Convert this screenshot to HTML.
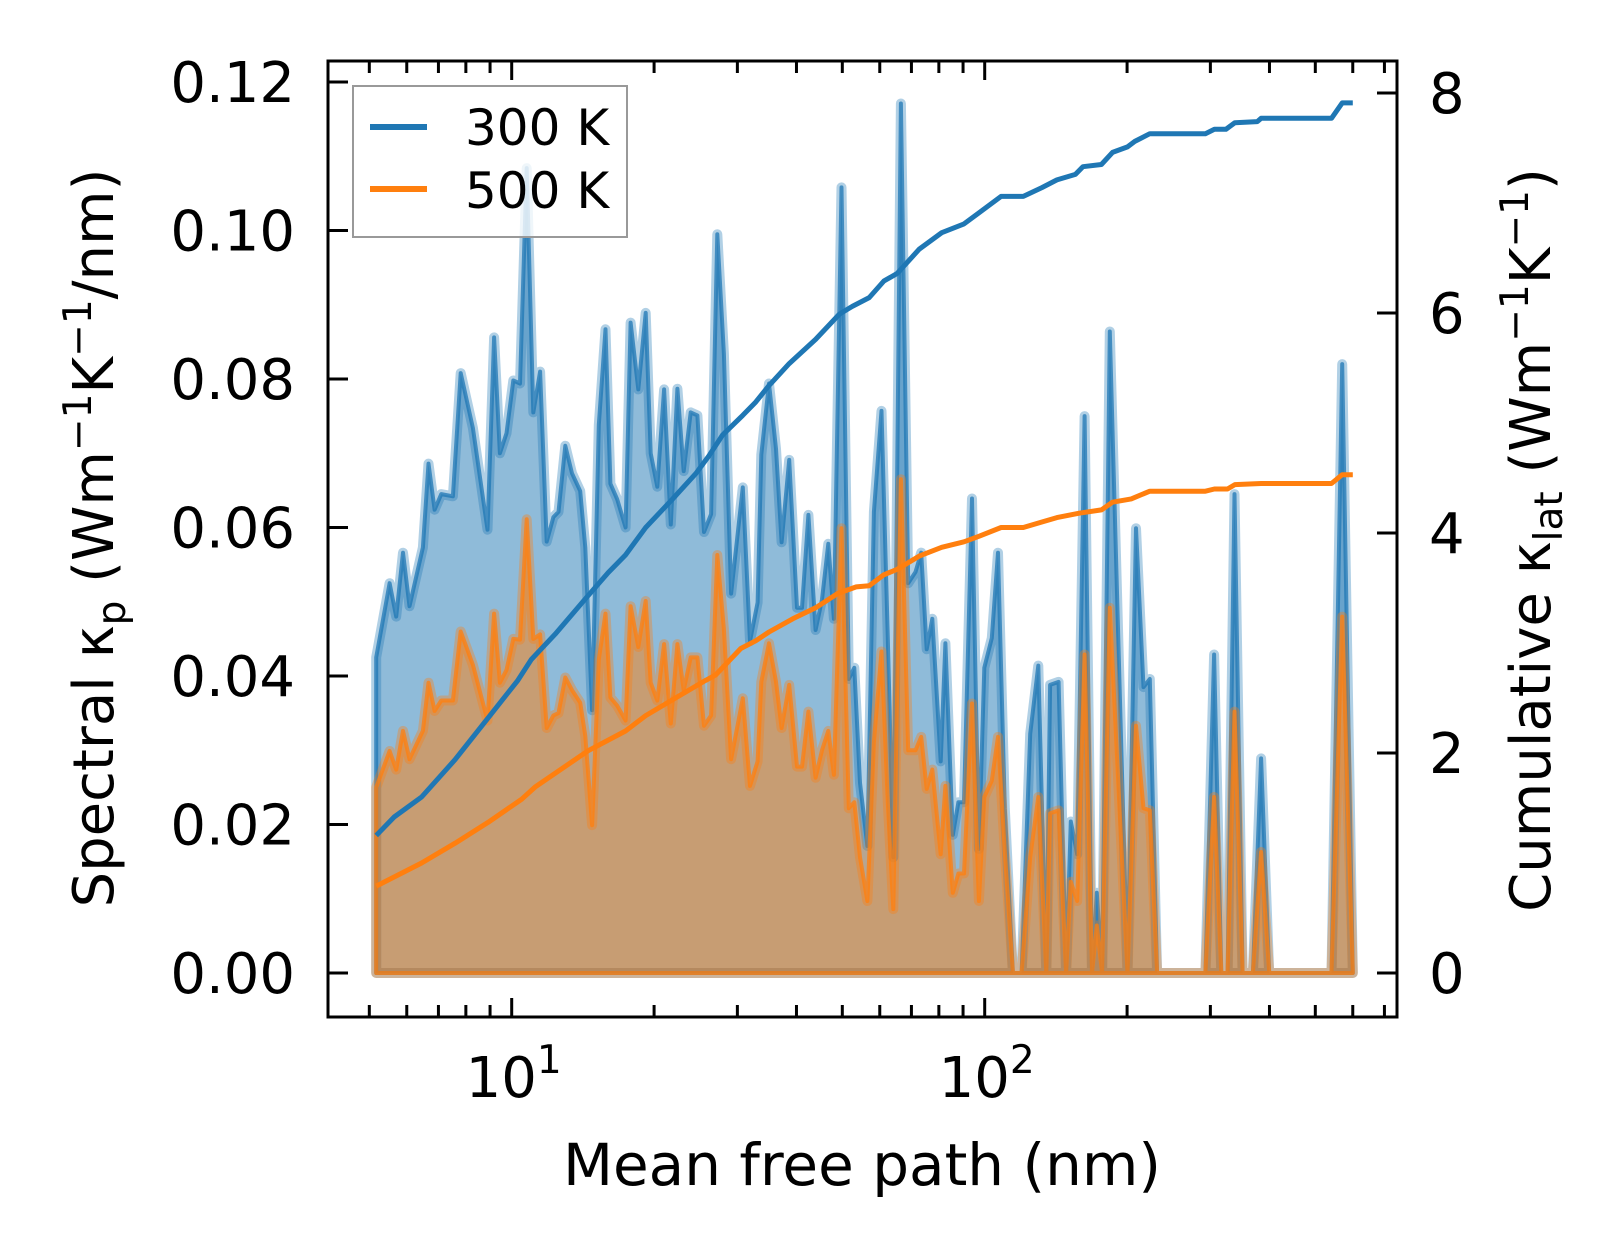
<!DOCTYPE html>
<html><head><meta charset="utf-8"><style>
html,body{margin:0;padding:0;background:#fff;}
svg{display:block;font-family:"DejaVu Sans","Liberation Sans",sans-serif;}
</style></head><body>
<svg id="chart" width="1623" height="1255" viewBox="0 0 1623 1255" xmlns="http://www.w3.org/2000/svg">
<rect x="0" y="0" width="1623" height="1255" fill="#fff"/>
<g id="fills"></g><g id="lines"></g><g id="cums"></g>
<g id="axes"></g>
<g id="legend">
 <rect x="353" y="86" width="274" height="151" fill="#fff" fill-opacity="0.8" stroke="#999" stroke-width="2"/>
 <line x1="370" y1="127" x2="427" y2="127" stroke="#1f77b4" stroke-width="6"/>
 <text x="465" y="145" font-size="50">300 K</text>
 <line x1="370" y1="189" x2="427" y2="189" stroke="#ff7f0e" stroke-width="6"/>
 <text x="465" y="208" font-size="50">500 K</text>
</g>
<text x="862" y="1185" font-size="58" text-anchor="middle">Mean free path (nm)</text>
<text transform="translate(113,538) rotate(-90)" font-size="56" text-anchor="middle">Spectral κ<tspan font-size="39" dy="12">p</tspan><tspan dy="-12"> (Wm</tspan><tspan font-size="39" dy="-22">−1</tspan><tspan dy="22">K</tspan><tspan font-size="39" dy="-22">−1</tspan><tspan dy="22">/nm)</tspan></text>
<text transform="translate(1550,540) rotate(-90)" font-size="56" text-anchor="middle">Cumulative κ<tspan font-size="39" dy="12">lat</tspan><tspan dy="-12"> (Wm</tspan><tspan font-size="39" dy="-22">−1</tspan><tspan dy="22">K</tspan><tspan font-size="39" dy="-22">−1</tspan><tspan dy="22">)</tspan></text>
</svg>
<script>
const mfp = [5.17,5.52,5.70,5.89,6.08,6.49,6.67,6.87,7.10,7.51,7.80,8.28,8.89,9.18,9.44,9.75,10.08,10.41,10.76,11.11,11.48,11.86,12.25,12.56,12.98,13.41,13.96,14.31,14.79,15.28,15.79,16.17,16.71,17.41,17.84,18.52,19.20,19.67,20.32,21.0,21.7,22.4,23.1,23.9,24.7,25.5,26.4,27.2,28.1,29.1,30.8,31.9,33.1,33.7,35.0,36.2,37.2,38.6,40.1,41.1,42.4,43.9,45.3,46.7,48.0,49.8,51.6,53.0,54.5,56.5,58.3,60.5,62.4,64.1,66.5,68.9,71.4,73.4,75.4,77.5,80.7,82.6,85.6,88.0,90.4,94.0,97.2,99.8,103.5,106.7,110.3,114.7,119.7,124.8,129.8,135.0,137.5,143.3,148.6,152.1,156.9,162.6,168.6,172.6,177.1,183.9,200.4,208.9,216.6,223.4,231.5,292.8,305.5,316.4,326.3,337.3,351,369,384,399.5,541,570,600];
const k300 = [0.0425,0.0525,0.0480,0.0566,0.0494,0.0573,0.0686,0.0624,0.0645,0.0642,0.0808,0.0734,0.0597,0.0856,0.0700,0.0727,0.0798,0.0794,0.1084,0.0755,0.0810,0.0581,0.0614,0.0621,0.0710,0.0673,0.0649,0.0573,0.0354,0.0738,0.0867,0.0659,0.0638,0.0600,0.0876,0.0786,0.0889,0.0700,0.0655,0.0786,0.0604,0.0787,0.0676,0.0755,0.0751,0.0594,0.0618,0.0995,0.0834,0.0511,0.0654,0.0447,0.0499,0.0698,0.0794,0.0706,0.0580,0.0691,0.0492,0.0492,0.0617,0.0462,0.0503,0.0578,0.0477,0.1058,0.0396,0.0411,0.0256,0.0171,0.0621,0.0757,0.0451,0.0156,0.1171,0.0525,0.0540,0.0566,0.0436,0.0477,0.0285,0.0444,0.0186,0.0230,0.0230,0.0639,0.0167,0.0411,0.0451,0.0566,0.0222,0,0,0.0322,0.0414,0,0.0388,0.0392,0,0.0204,0.0160,0.0750,0,0.0108,0,0.0864,0,0.0599,0.0385,0.0396,0,0,0.0429,0,0,0.0645,0,0,0.0289,0,0,0.0820,0];
const k500 = [0.0250,0.0299,0.0274,0.0326,0.0288,0.0326,0.0391,0.0353,0.0367,0.0367,0.0460,0.0415,0.0340,0.0484,0.0391,0.0408,0.0450,0.0449,0.0611,0.0450,0.0456,0.0330,0.0347,0.0350,0.0398,0.0381,0.0364,0.0319,0.0199,0.0422,0.0484,0.0371,0.0360,0.0340,0.0494,0.0439,0.0501,0.0391,0.0367,0.0443,0.0336,0.0443,0.0381,0.0425,0.0425,0.0333,0.0347,0.0563,0.0463,0.0288,0.0370,0.0252,0.0285,0.0392,0.0444,0.0392,0.0330,0.0388,0.0278,0.0278,0.0352,0.0263,0.0300,0.0326,0.0267,0.0599,0.0222,0.0230,0.0156,0.0097,0.0311,0.0433,0.0230,0.0086,0.0665,0.0300,0.0300,0.0318,0.0248,0.0274,0.0160,0.0252,0.0108,0.0134,0.0134,0.0363,0.0097,0.0237,0.0259,0.0318,0.0163,0,0,0.0156,0.0237,0,0.0215,0.0219,0,0.0123,0.0097,0.0429,0,0.0064,0,0.0492,0,0.0333,0.0222,0.0219,0,0,0.0237,0,0,0.0352,0,0,0.0163,0,0,0.0480,0];
const cumMfp300 = [5.17,5.65,6.45,7.59,8.92,10.3,11.0,12.35,14.5,16.0,17.4,19.2,21.9,24.5,26.1,27.9,30.8,32.8,35.0,38.6,43.9,49.3,52.5,57.0,61.2,65.3,72.7,81.1,90.4,97.2,108.3,120.7,132.1,142.1,155.5,161.3,176.5,186.3,200.4,207.7,223.4,292.8,306,323.5,338,377,384,541,570,600];
const cum300 = [1.25,1.42,1.60,1.94,2.32,2.66,2.85,3.08,3.43,3.64,3.80,4.05,4.31,4.54,4.70,4.89,5.07,5.19,5.34,5.54,5.76,5.99,6.06,6.14,6.29,6.36,6.58,6.73,6.81,6.91,7.06,7.06,7.14,7.21,7.26,7.33,7.35,7.46,7.51,7.56,7.63,7.63,7.67,7.67,7.73,7.74,7.77,7.77,7.91,7.91];
const cumMfp500 = [5.17,6.45,7.59,8.92,10.5,11.2,14.5,17.4,19.2,22.2,25.7,27.0,30.5,32.8,35.0,39.3,43.9,48.9,53.5,57.0,61.2,65.3,72.7,81.1,90.4,97.2,108.3,120.7,132.1,142.1,158.4,176.5,186.3,204,223.4,292.8,306,326,338,384,541,570,600];
const cum500 = [0.79,1.00,1.18,1.37,1.58,1.69,2.02,2.20,2.34,2.50,2.66,2.71,2.95,3.02,3.10,3.22,3.32,3.45,3.51,3.52,3.62,3.67,3.79,3.87,3.92,3.97,4.05,4.05,4.10,4.14,4.18,4.21,4.28,4.31,4.38,4.38,4.40,4.40,4.44,4.45,4.45,4.53,4.53];
const leftTicks = [0,0.02,0.04,0.06,0.08,0.10,0.12];
const leftTickLabels = ["0.00","0.02","0.04","0.06","0.08","0.10","0.12"];
const rightTicks = [0,2,4,6,8];
const xMajor = [10,100];
const xMajorExp = ["1","2"];
const xMinor = [5,6,7,8,9,20,30,40,50,60,70,80,90,200,300,400,500,600,700];

const NS="http://www.w3.org/2000/svg";
const L=328,R=1397,T=61,B=1017;
function X(v){return 511.7+(Math.log10(v)-1)*473;}
function YL(v){return 973-v/0.12*(973-82);}
function YR(v){return 973-v/8*(973-93);}
function mk(tag,attrs,parent){const e=document.createElementNS(NS,tag);for(const k in attrs)e.setAttribute(k,attrs[k]);parent.appendChild(e);return e;}
const fills=document.getElementById('fills'),lines=document.getElementById('lines'),cums=document.getElementById('cums'),axes=document.getElementById('axes');

function spectral(vals,color,name){
  let d='M'+X(mfp[0]).toFixed(1)+','+YL(0).toFixed(1);
  for(let i=0;i<mfp.length;i++)d+=' L'+X(mfp[i]).toFixed(1)+','+YL(vals[i]).toFixed(1);
  d+=' L'+X(mfp[mfp.length-1]).toFixed(1)+','+YL(0).toFixed(1)+' Z';
  const f=mk('path',{d:d,fill:color,'fill-opacity':0.5,stroke:'none'},fills);
  
  
  const h=mk('path',{d:d,fill:'none',stroke:color,'stroke-opacity':0.35,'stroke-width':10,'stroke-linejoin':'round'},lines);
  
  
  const c=mk('path',{d:d,fill:'none',stroke:color,'stroke-opacity':0.75,'stroke-width':4,'stroke-linejoin':'round'},lines);
  
  
}
spectral(k300,'#1f77b4','spectral-300k');
spectral(k500,'#ff7f0e','spectral-500k');

function cumLine(xs,ys,color,name){
  let d='';
  for(let i=0;i<xs.length;i++)d+=(i?' L':'M')+X(xs[i]).toFixed(1)+','+YR(ys[i]).toFixed(1);
  const p=mk('path',{d:d,fill:'none',stroke:color,'stroke-width':5,'stroke-linejoin':'round'},cums);
  
  
}
cumLine(cumMfp300,cum300,'#1f77b4','cumulative-300k');
cumLine(cumMfp500,cum500,'#ff7f0e','cumulative-500k');

const frame=mk('rect',{x:L,y:T,width:R-L,height:B-T,fill:'none',stroke:'#000','stroke-width':3},axes);


leftTicks.forEach((v,i)=>{
  const y=YL(v);
  const t=mk('line',{x1:L,y1:y,x2:L+20,y2:y,stroke:'#000','stroke-width':3},axes);
  
  
  const tx=mk('text',{x:295,y:y+20,'font-size':56,'text-anchor':'end'},axes);
  tx.textContent=leftTickLabels[i];
  
  
});
rightTicks.forEach(v=>{
  const y=YR(v);
  const t=mk('line',{x1:R-20,y1:y,x2:R,y2:y,stroke:'#000','stroke-width':3},axes);
  
  
  const tx=mk('text',{x:1429,y:y+20,'font-size':56},axes);
  tx.textContent=String(v);
  
  
});
xMajor.forEach((v,i)=>{
  const x=X(v);
  [[B,B-19],[T,T+19]].forEach(p=>{
    const t=mk('line',{x1:x,y1:p[0],x2:x,y2:p[1],stroke:'#000','stroke-width':3},axes);
    
    
  });
  const tx=mk('text',{x:x+2,y:1097,'font-size':56,'text-anchor':'middle'},axes);
  
  
  tx.appendChild(document.createTextNode('10'));
  const s=mk('tspan',{'font-size':39,dy:-24},tx);
  s.textContent=xMajorExp[i];
});
xMinor.forEach(v=>{
  const x=X(v);
  [[B,B-12],[T,T+12]].forEach(p=>{
    const t=mk('line',{x1:x,y1:p[0],x2:x,y2:p[1],stroke:'#000','stroke-width':3},axes);
    
    
  });
});
</script>
</body></html>
